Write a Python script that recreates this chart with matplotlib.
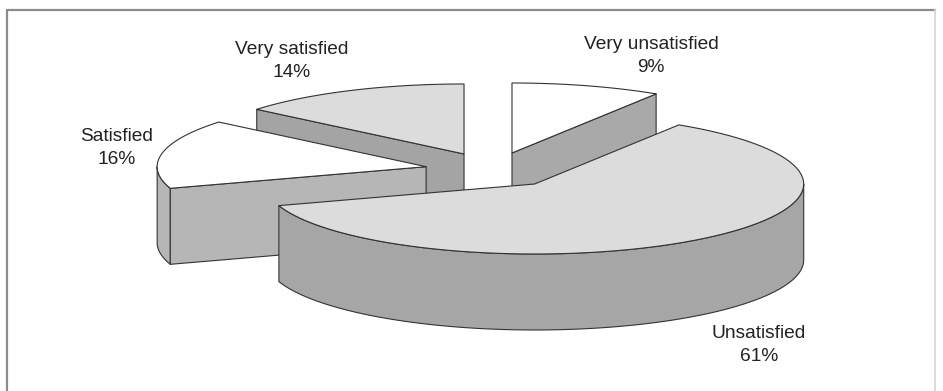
import numpy as np
import matplotlib.pyplot as plt
from matplotlib.patches import Polygon

labels = ['Very unsatisfied', 'Unsatisfied', 'Satisfied', 'Very satisfied']
shares = [9, 61, 16, 14]

top_colors = ['#ffffff', '#dcdcdc', '#ffffff', '#dcdcdc']
side_colors = ['#a9a9a9', '#a6a6a6', '#b6b6b6', '#a4a4a4']
label_xy = [(651, 56), (759, 345), (117, 148), (292, 61)]

W, H = 943, 391
cx, cy = 493, 170      # pie centre (top face), pixels
rx, ry = 269, 70       # ellipse radii of the tilted pie
depth = 76             # thickness of the disc
explode = 0.253


def pt(x0, y0, a, dz=0.0):
    return (x0 + rx * np.cos(a), y0 - ry * np.sin(a) + dz)


def arc(x0, y0, a0, a1, dz=0.0, n=80):
    return [pt(x0, y0, a, dz) for a in np.linspace(a0, a1, n)]


fig = plt.figure(figsize=(W / 100, H / 100), dpi=100)
ax = fig.add_axes([0, 0, 1, 1])
ax.set_xlim(0, W)
ax.set_ylim(H, 0)
ax.axis('off')

# frame around the chart
ax.plot([7, 7, 935], [H, 10, 10], color='#8c8c8c', lw=1.6, solid_joinstyle='miter')
ax.plot([935, 935], [10, H], color='#d4d4d4', lw=1.2)

# slices go clockwise starting at 12 o'clock
bounds = 90 - 360 * np.cumsum([0] + shares) / sum(shares)
slices = []
for i in range(len(shares)):
    a_hi = np.radians(bounds[i])
    a_lo = np.radians(bounds[i + 1])
    mid = (a_hi + a_lo) / 2
    x0 = cx + explode * rx * np.cos(mid)
    y0 = cy - explode * ry * np.sin(mid)
    slices.append((i, a_lo, a_hi, mid, x0, y0))

# paint back to front
slices.sort(key=lambda s: -np.sin(s[3]))

edge = dict(edgecolor='#333333', linewidth=0.8, joinstyle='round')
for i, a_lo, a_hi, mid, x0, y0 in slices:
    side = side_colors[i]
    # outer wall, only the part facing the viewer
    for base in (-540, -180, 180):
        lo = max(a_lo, np.radians(base))
        hi = min(a_hi, np.radians(base + 180))
        if lo < hi:
            poly = arc(x0, y0, lo, hi) + arc(x0, y0, hi, lo, depth)
            ax.add_patch(Polygon(poly, closed=True, facecolor=side, **edge))
    # radial cut faces
    for a, visible in ((a_lo, np.cos(a_lo) > 1e-6), (a_hi, np.cos(a_hi) < -1e-6)):
        if visible:
            poly = [(x0, y0), pt(x0, y0, a), pt(x0, y0, a, depth), (x0, y0 + depth)]
            ax.add_patch(Polygon(poly, closed=True, facecolor=side, **edge))
    # top face
    poly = [(x0, y0)] + arc(x0, y0, a_lo, a_hi)
    ax.add_patch(Polygon(poly, closed=True, facecolor=top_colors[i], **edge))

for lab, share, (tx, ty) in zip(labels, shares, label_xy):
    ax.text(tx, ty, f'{lab}\n{share}%', ha='center', va='center',
            fontsize=13.8, family='Liberation Sans', color='#222222',
            linespacing=1.42)

fig.savefig('out.png', dpi=100, facecolor='white')
